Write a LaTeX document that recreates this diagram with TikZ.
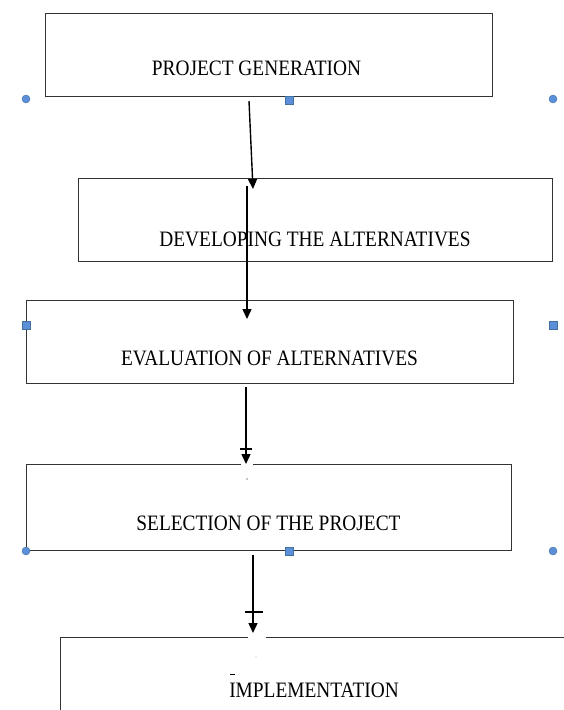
\documentclass[tikz,border=0pt]{standalone}
\usepackage{fontspec}
\setmainfont{Liberation Serif}[FakeStretch=0.88]
\usepackage{tikz}
\tikzset{font={\fontsize{22pt}{26}\selectfont}}
\usetikzlibrary{arrows.meta}
\usepackage{xcolor}
\definecolor{handle}{HTML}{5B8FD9}
\definecolor{handleedge}{HTML}{41719C}

\begin{document}
\begin{tikzpicture}[x=1pt,y=-1pt,>={Triangle[length=10pt,width=9pt]},line width=1.4pt,
                    stage/.style={draw=black!80,line width=1.3pt,inner sep=0pt,anchor=north west},
                    stage text/.style={anchor=base,inner sep=0pt},
                    dot handle/.style={circle,fill=handle,draw=handleedge,line width=0.4pt,minimum size=8pt,inner sep=0pt},
                    box handle/.style={rectangle,fill=handle,draw=handleedge,line width=0.4pt,minimum size=8pt,inner sep=0pt}]

  \useasboundingbox (0,0) rectangle (564,710);
  \clip (0,0) rectangle (564,710);

  % stages
  \node[stage,minimum width=447pt,minimum height=83pt] (gen) at (45,13) {};
  \node[stage,minimum width=474pt,minimum height=83pt] (dev) at (78,178) {};
  \node[stage,minimum width=487pt,minimum height=83pt] (eval) at (26,300) {};
  \node[stage,minimum width=485pt,minimum height=86pt] (sel) at (26,464) {};
  \node[stage,minimum width=520pt,minimum height=100pt] (impl) at (60,637) {};

  \node[stage text] (genlbl) at (256.5,75) {PROJECT GENERATION};
  \node[stage text] (devlbl) at (315,246) {DEVELOPING THE ALTERNATIVES};
  \node[stage text] (evallbl) at (269.5,365) {EVALUATION OF ALTERNATIVES};
  \node[stage text] (sellbl) at (268.5,530) {SELECTION OF THE PROJECT};
  \node[stage text] (impllbl) at (314,697) {IMPLEMENTATION};

  % gaps in the top lines
  \draw[white,line width=3pt] (241,464) -- (253,464);
  \draw[white,line width=3pt] (248,637) -- (266,637);

  % arrow ends
  \coordinate (a1s) at (249,101);
  \coordinate (a1e) at (253,189);
  \coordinate (a2s) at (247,186);
  \coordinate (a2e) at (247,319);
  \coordinate (a3s) at (246,387);
  \coordinate (a3e) at (246,464);
  \coordinate (a4s) at (253,555);
  \coordinate (a4e) at (253,633);

  \path[->]
    (a1s) edge (a1e)
    (a2s) edge (a2e)
    (a3s) edge (a3e)
    (a4s) edge (a4e);

  \draw (240,449) -- (252,449);
  \draw (245,612) -- (263,612);

  % specks
  \fill[black!45] (247,479) circle (0.9);
  \fill[black!25] (256,657) circle (0.7);
  \draw[line width=0.9pt] (230,674) -- (235,674);

  % handles
  \node[dot handle] (h1) at (26,99) {};
  \node[box handle] (h2) at (289,100) {};
  \node[dot handle] (h3) at (553,99) {};
  \node[box handle] (h4) at (26,325) {};
  \node[box handle] (h5) at (553,325) {};
  \node[dot handle] (h6) at (26,551) {};
  \node[box handle] (h7) at (289,551) {};
  \node[dot handle] (h8) at (553,551) {};
\end{tikzpicture}
\end{document}
